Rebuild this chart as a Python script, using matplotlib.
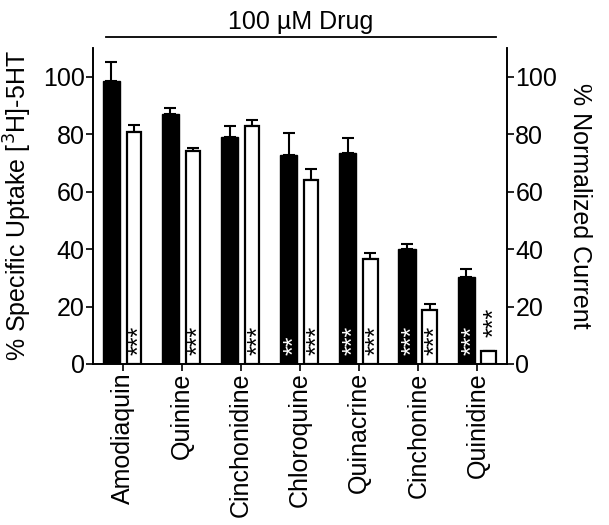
import numpy as np
import matplotlib
matplotlib.use("Agg")
import matplotlib.pyplot as plt

plt.rcParams['font.family'] = ['Liberation Sans', 'DejaVu Sans']
plt.rcParams['font.size'] = 18

# data
drugs = ["Amodiaquin", "Quinine", "Cinchonidine", "Chloroquine",
         "Quinacrine", "Cinchonine", "Quinidine"]
uptake = [98.5, 87.0, 79.0, 72.7, 73.5, 39.9, 30.4]
uptake_err = [6.5, 2.0, 4.0, 7.7, 5.2, 2.0, 2.6]
current = [80.7, 74.0, 82.7, 63.9, 36.6, 18.8, 4.4]
current_err = [2.6, 1.0, 2.2, 3.9, 1.9, 2.0, 0.0]
uptake_sig = ["", "", "", "**", "***", "***", "***"]
current_sig = ["***", "***", "***", "***", "***", "***", "***"]

x = np.arange(len(drugs))
off = 0.19

fig = plt.figure(figsize=(6.09, 5.25), dpi=100)
ax = fig.add_axes([0.1527, 0.3067, 0.6798, 0.602])
ax2 = ax.twinx()

ax.bar(x - off, uptake, width=0.29, color="black", edgecolor="black", linewidth=1.0, zorder=2)
ax.errorbar(x - off, uptake, yerr=[np.zeros(len(x)), uptake_err], fmt="none",
            ecolor="black", elinewidth=1.5, capsize=4, capthick=1.5, zorder=1)

ax2.bar(x + off, current, width=0.245, color="white", edgecolor="black", linewidth=1.6, zorder=2)
ax2.errorbar(x + off, current, yerr=[np.zeros(len(x)), current_err], fmt="none",
             ecolor="black", elinewidth=1.5, capsize=4, capthick=1.5, zorder=1)

# significance stars, rotated like the tick labels
for i in range(len(x)):
    if uptake_sig[i]:
        ax.text(x[i] - off + 0.1, 3.2, uptake_sig[i], rotation=90, color="white",
                ha="center", va="bottom", fontsize=18, zorder=5)
    y0 = 3.2 if current[i] > 15 else current[i] + 5.0
    ax2.text(x[i] + off + 0.1, y0, current_sig[i], rotation=90, color="black",
             ha="center", va="bottom", fontsize=18, zorder=5)

for a in (ax, ax2):
    a.set_ylim(0, 110)
    a.set_yticks([0, 20, 40, 60, 80, 100])
    a.tick_params(axis="both", direction="out", length=5, width=1.2, labelsize=18, pad=1)
    for s in a.spines.values():
        s.set_linewidth(1.2)
    a.spines["top"].set_visible(False)

ax.set_xlim(-0.5, 6.5)
ax.set_xticks(x)
ax.set_xticklabels(drugs, rotation=90)
ax.set_ylabel("% Specific Uptake [$^3$H]-5HT", fontsize=18, labelpad=6)
ax2.set_ylabel("% Normalized Current", fontsize=18, rotation=270, labelpad=25)

# bracket line over the drugs
fig.add_artist(plt.Line2D([106 / 609, 496 / 609], [1 - 37 / 525, 1 - 37 / 525],
                          color="black", linewidth=1.3))
fig.text(301 / 609, 1 - 29 / 525, "100 µM Drug", ha="center", va="baseline", fontsize=18)

fig.savefig("out.png", dpi=100)
